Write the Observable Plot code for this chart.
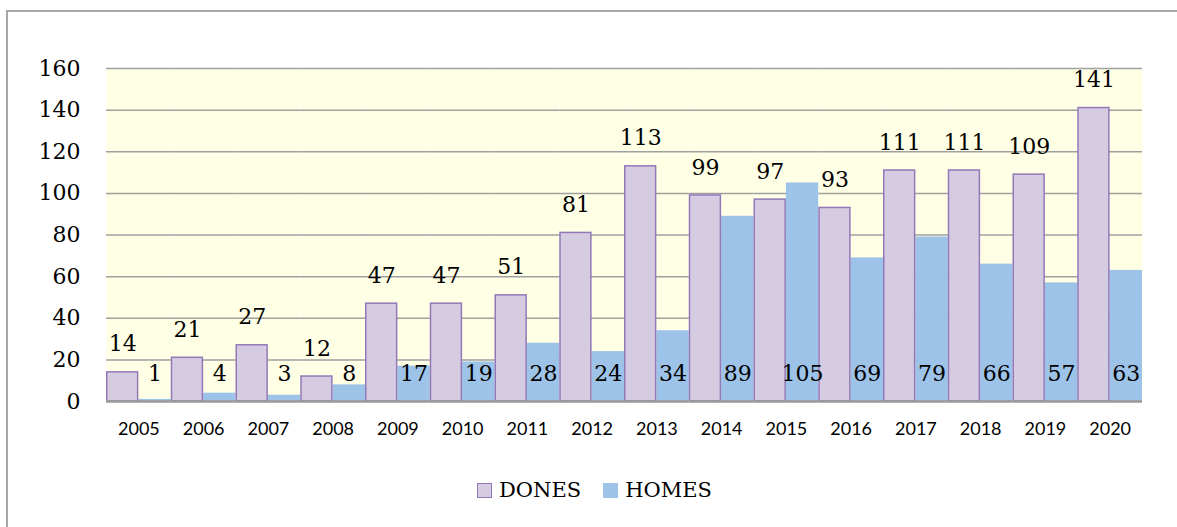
<!DOCTYPE html>
<html>
<head>
<meta charset="utf-8">
<script src="https://cdn.jsdelivr.net/npm/d3@7"></script>
<script src="https://cdn.jsdelivr.net/npm/@observablehq/plot@0.6"></script>
<style>
  html, body { margin: 0; padding: 0; background: #fff; overflow: hidden; width: 1177px; height: 527px; }
  #chart { position: absolute; left: 0; top: 0; }
  #border { position: absolute; left: 6px; top: 10px; width: 1200px; height: 600px; border: 2px solid #A8A8A8; box-sizing: border-box; pointer-events: none; }
  #legend { position: absolute; left: 477px; top: 478px; display: flex; align-items: center; font-family: "DejaVu Serif", serif; font-size: 21px; color: #000; }
  .sw { width: 13px; height: 13px; display: inline-block; margin-right: 7px; box-sizing: content-box; }
  .item { display: flex; align-items: center; margin-right: 22px; }
</style>
</head>
<body>
<div id="chart"></div>
<div id="legend"></div>
<div id="border"></div>
<script>
const years = [2005, 2006, 2007, 2008, 2009, 2010, 2011, 2012, 2013, 2014, 2015, 2016, 2017, 2018, 2019, 2020];
const dones = [14, 21, 27, 12, 47, 47, 51, 81, 113, 99, 97, 93, 111, 111, 109, 141];
const homes = [1, 4, 3, 8, 17, 19, 28, 24, 34, 89, 105, 69, 79, 66, 57, 63];
const seriesNames = ["DONES", "HOMES"];
const yTicks = [0, 20, 40, 60, 80, 100, 120, 140, 160];

const donesFill = "#D6CCE1";
const donesStroke = "#9278B8";
const homesFill = "#9EC3E8";
const bg = "#FFFFE6";
const gridColor = "#A0A0A0";

const donesData = years.map((y, i) => ({year: y, series: seriesNames[0], value: dones[i]}));
const homesData = years.map((y, i) => ({year: y, series: seriesNames[1], value: homes[i]}));

const chart = Plot.plot({
  width: 1177,
  height: 455,
  marginLeft: 106,
  marginRight: 35,
  marginTop: 68,
  marginBottom: 54,
  style: {background: "transparent", fontFamily: "Lato, sans-serif", fontSize: "18px", color: "#000"},
  fx: {domain: years, padding: 0, round: false},
  x: {domain: seriesNames, padding: 0, round: false, axis: null},
  y: {domain: [0, 160]},
  marks: [
    Plot.frame({fill: bg, stroke: "none"}),
    Plot.gridY(yTicks.filter(t => t > 0), {stroke: gridColor, strokeOpacity: 1, strokeWidth: 1.5}),
    Plot.barY(homesData, {fx: "year", x: "series", y: "value", fill: homesFill}),
    Plot.barY(donesData, {fx: "year", x: "series", y: "value", fill: donesFill, stroke: donesStroke, strokeWidth: 1.5, insetLeft: 0.75, insetRight: 0.75}),
    Plot.ruleY([0], {stroke: "#999", strokeWidth: 2.5}),
    Plot.axisY(yTicks, {tickSize: 0, tickPadding: 26, label: null, line: true, stroke: gridColor, strokeWidth: 1.5, fill: "#000", fontFamily: "DejaVu Serif, serif", fontSize: 22}),
    Plot.axisFx({anchor: "bottom", tickSize: 0, tickPadding: 21, label: null, tickFormat: d => String(d), fontFamily: "Lato, sans-serif", fontSize: 18, fill: "#000"}),
    Plot.text(donesData, {fx: "year", x: "series", y: "value", text: d => String(d.value), dy: -28, fontFamily: "DejaVu Serif, serif", fontSize: 22, fill: "#000"}),
    Plot.text(homesData, {fx: "year", x: "series", frameAnchor: "bottom", lineAnchor: "middle", text: d => String(d.value), dy: -28, fontFamily: "DejaVu Serif, serif", fontSize: 22, fill: "#000"})
  ]
});
document.getElementById("chart").appendChild(chart);

const legend = document.getElementById("legend");
const legendStyles = [
  {fill: donesFill, stroke: donesStroke},
  {fill: homesFill, stroke: homesFill}
];
seriesNames.forEach((name, i) => {
  const item = document.createElement("div");
  item.className = "item";
  const sw = document.createElement("span");
  sw.className = "sw";
  sw.style.background = legendStyles[i].fill;
  sw.style.border = `1.5px solid ${legendStyles[i].stroke}`;
  const label = document.createElement("span");
  label.textContent = name;
  item.appendChild(sw);
  item.appendChild(label);
  legend.appendChild(item);
});
</script>
</body>
</html>
